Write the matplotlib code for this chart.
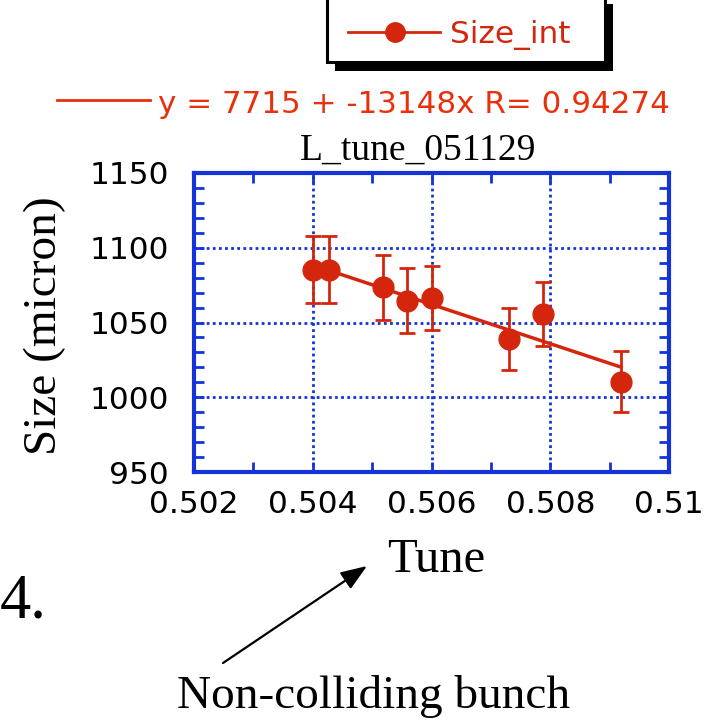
import matplotlib
matplotlib.use('Agg')
from matplotlib import pyplot as plt
from matplotlib.lines import Line2D
from matplotlib.patches import Rectangle
from matplotlib.ticker import FuncFormatter, MultipleLocator

# Bunch size vs tune, run L_tune_051129
tune = [0.50400, 0.50428, 0.50519, 0.50559, 0.50600, 0.50730, 0.50788, 0.50919]
size_int = [1085.4, 1085.4, 1073.5, 1064.7, 1066.3, 1038.9, 1055.8, 1010.4]
size_err = [22.3, 22.3, 21.5, 21.5, 21.5, 20.6, 21.3, 20.4]

# linear fit quoted on the plot
fit_a = 7715
fit_b = -13148
fit_r = 0.94274

x_ticks = [0.502, 0.504, 0.506, 0.508, 0.510]
y_ticks = [950, 1000, 1050, 1100, 1150]

RED = '#d4260c'
LABEL_RED = '#e8300c'
BLUE = '#1433d8'
W, H = 715, 724


def fx(px):
    return px / W


def fy(py):
    return 1 - py / H


fig = plt.figure(figsize=(W / 100, H / 100), dpi=100)
ax = fig.add_axes([fx(194), fy(472), fx(669) - fx(194), fy(173) - fy(472)])

# fit line over the measured range
fx_line = [min(tune), max(tune)]
fy_line = [fit_a + fit_b * t for t in fx_line]
ax.plot(fx_line, fy_line, color=RED, lw=2.5, zorder=3)

ax.errorbar(tune, size_int, yerr=size_err, fmt='o', color=RED, ms=15,
            elinewidth=2, capsize=6, capthick=2, zorder=4)

ax.set_xlim(0.502, 0.510)
ax.set_ylim(950, 1150)
ax.set_xticks(x_ticks)
ax.set_yticks(y_ticks)
ax.xaxis.set_minor_locator(MultipleLocator(0.001))
ax.yaxis.set_minor_locator(MultipleLocator(10))
ax.xaxis.set_major_formatter(FuncFormatter(lambda v, p: '%g' % round(v, 3)))

ax.grid(True, which='major', color=BLUE, linestyle=(0, (1, 1.2)), lw=2, zorder=1)
for s in ax.spines.values():
    s.set_color(BLUE)
    s.set_linewidth(3)
ax.tick_params(which='both', direction='in', top=True, right=True,
               color=BLUE, width=2, length=7)
ax.tick_params(axis='x', which='major', labelsize=22.5, pad=13)
ax.tick_params(axis='y', which='major', labelsize=22.5, pad=18)

# legend box with solid drop shadow
box_l, box_r, box_t, box_b = 327, 605, -5, 62
shadow = Rectangle((fx(box_l + 8), fy(box_b + 9)), fx(box_r - box_l), fy(box_t) - fy(box_b),
                   transform=fig.transFigure, facecolor='black', edgecolor='black', lw=0,
                   clip_on=False)
frame = Rectangle((fx(box_l), fy(box_b)), fx(box_r - box_l), fy(box_t) - fy(box_b),
                  transform=fig.transFigure, facecolor='white', edgecolor='black', lw=2.2,
                  clip_on=False)
fig.patches.extend([shadow, frame])
fig.lines.append(Line2D([fx(348), fx(395), fx(440)], [fy(32)] * 3, transform=fig.transFigure,
                        color=RED, lw=2, marker='o', markevery=[1], ms=14))
fig.text(fx(450), fy(43), 'Size_int', color=RED, fontsize=22.5, va='baseline')

# fit annotation
fig.lines.append(Line2D([fx(57), fx(150)], [fy(100), fy(100)], transform=fig.transFigure,
                        color=LABEL_RED, lw=2))
fig.text(fx(158), fy(113), 'y = %d + %dx R= %.5f' % (fit_a, fit_b, fit_r),
         color=LABEL_RED, fontsize=22.3, va='baseline')

serif = 'Liberation Serif'
fig.text(fx(418), fy(160), 'L_tune_051129', family=serif, fontsize=27,
         ha='center', va='baseline')
fig.text(fx(45), fy(326), 'Size (micron)', family=serif, fontsize=34,
         rotation=90, ha='center', va='center')
fig.text(fx(436), fy(572), 'Tune', family=serif, fontsize=35, ha='center', va='baseline')
fig.text(fx(0), fy(617), '4.', family=serif, fontsize=45, ha='left', va='baseline')
fig.text(fx(177), fy(708), 'Non-colliding bunch', family=serif, fontsize=34,
         ha='left', va='baseline')

ax.annotate('', xy=(fx(367), fy(566)), xycoords='figure fraction',
            xytext=(fx(223), fy(663)), textcoords='figure fraction',
            arrowprops=dict(arrowstyle='-|>,head_length=1.6,head_width=0.6',
                            color='black', lw=1.6, shrinkA=0, shrinkB=0))

fig.savefig('out.png', dpi=100)
